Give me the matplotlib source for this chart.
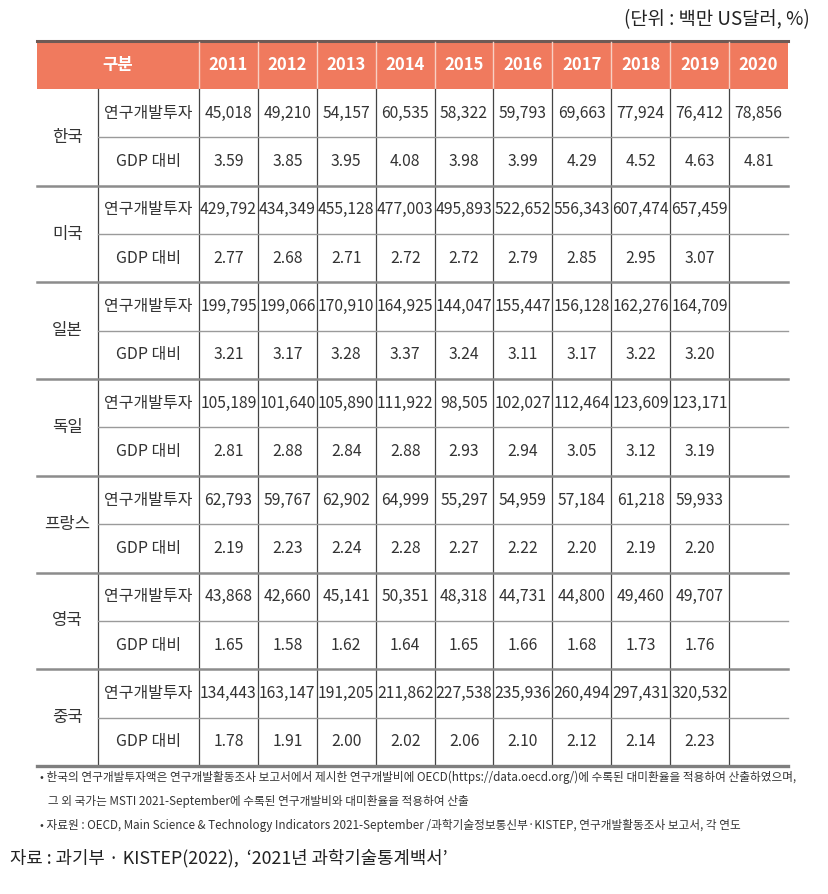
import matplotlib.pyplot as plt
from matplotlib.patches import Rectangle

plt.rcParams['font.family'] = ['Noto Sans CJK KR', 'DejaVu Sans']

# 데이터
years = ["2011", "2012", "2013", "2014", "2015", "2016", "2017", "2018", "2019", "2020"]
countries = ["한국", "미국", "일본", "독일", "프랑스", "영국", "중국"]
items = ["연구개발투자", "GDP 대비"]

rnd = {
    "한국": [45018, 49210, 54157, 60535, 58322, 59793, 69663, 77924, 76412, 78856],
    "미국": [429792, 434349, 455128, 477003, 495893, 522652, 556343, 607474, 657459, None],
    "일본": [199795, 199066, 170910, 164925, 144047, 155447, 156128, 162276, 164709, None],
    "독일": [105189, 101640, 105890, 111922, 98505, 102027, 112464, 123609, 123171, None],
    "프랑스": [62793, 59767, 62902, 64999, 55297, 54959, 57184, 61218, 59933, None],
    "영국": [43868, 42660, 45141, 50351, 48318, 44731, 44800, 49460, 49707, None],
    "중국": [134443, 163147, 191205, 211862, 227538, 235936, 260494, 297431, 320532, None],
}
gdp = {
    "한국": [3.59, 3.85, 3.95, 4.08, 3.98, 3.99, 4.29, 4.52, 4.63, 4.81],
    "미국": [2.77, 2.68, 2.71, 2.72, 2.72, 2.79, 2.85, 2.95, 3.07, None],
    "일본": [3.21, 3.17, 3.28, 3.37, 3.24, 3.11, 3.17, 3.22, 3.20, None],
    "독일": [2.81, 2.88, 2.84, 2.88, 2.93, 2.94, 3.05, 3.12, 3.19, None],
    "프랑스": [2.19, 2.23, 2.24, 2.28, 2.27, 2.22, 2.20, 2.19, 2.20, None],
    "영국": [1.65, 1.58, 1.62, 1.64, 1.65, 1.66, 1.68, 1.73, 1.76, None],
    "중국": [1.78, 1.91, 2.00, 2.02, 2.06, 2.10, 2.12, 2.14, 2.23, None],
}

unit_text = "(단위 : 백만 US달러, %)"
notes = [
    "• 한국의 연구개발투자액은 연구개발활동조사 보고서에서 제시한 연구개발비에 OECD(https://data.oecd.org/)에 수록된 대미환율을 적용하여 산출하였으며,",
    "   그 외 국가는 MSTI 2021-September에 수록된 연구개발비와 대미환율을 적용하여 산출",
    "• 자료원 : OECD, Main Science & Technology Indicators 2021-September /과학기술정보통신부·KISTEP, 연구개발활동조사 보고서, 각 연도",
]
source = "자료 : 과기부 · KISTEP(2022),  ‘2021년 과학기술통계백서’"

# 레이아웃 (픽셀 좌표)
W, H = 829, 894
x_left, x_item, x_year0 = 37, 98, 199
col_w = (788 - 199) / 10
y_head_top, y_head_bot = 41, 89
row_h = (766 - 89) / 14

header_color = "#F07A5E"
text_color = "#333333"

fig = plt.figure(figsize=(W / 100, H / 100), dpi=100)
ax = fig.add_axes([0, 0, 1, 1])
ax.set_xlim(0, W)
ax.set_ylim(H, 0)
ax.axis("off")

x_right = x_year0 + col_w * len(years)

# 헤더
ax.add_patch(Rectangle((x_left, y_head_top), x_right - x_left, y_head_bot - y_head_top,
                       facecolor=header_color, edgecolor="none"))
ax.plot([x_left, x_right], [y_head_top, y_head_top], color="#6e5a55", lw=2.2)
ax.text((x_left + x_year0) / 2, (y_head_top + y_head_bot) / 2, "구분", color="white",
        fontsize=12, fontweight="bold", ha="center", va="center")
for i, yr in enumerate(years):
    xc = x_year0 + col_w * (i + 0.5)
    ax.text(xc, (y_head_top + y_head_bot) / 2, yr, color="white", fontsize=12,
            fontweight="bold", ha="center", va="center")
    ax.plot([x_year0 + col_w * i] * 2, [y_head_top + 1, y_head_bot], color="#f8d0c4", lw=1)

# 본문
y_bottom = y_head_bot + row_h * 2 * len(countries)
for i in range(len(years)):
    ax.plot([x_year0 + col_w * i] * 2, [y_head_bot, y_bottom], color="#444444", lw=0.9)
ax.plot([x_item, x_item], [y_head_bot, y_bottom], color="#444444", lw=0.9)

for g, c in enumerate(countries):
    y0 = y_head_bot + row_h * 2 * g
    ax.text((x_left + x_item) / 2, y0 + row_h, c, color=text_color, fontsize=12,
            ha="center", va="center")
    if g > 0:
        ax.plot([x_left, x_right], [y0, y0], color="#8c8c8c", lw=1.8)
    ax.plot([x_item, x_right], [y0 + row_h, y0 + row_h], color="#9a9a9a", lw=1.0)
    for r, (item, vals) in enumerate(zip(items, [rnd[c], gdp[c]])):
        yc = y0 + row_h * (r + 0.5)
        ax.text((x_item + x_year0) / 2, yc, item, color=text_color, fontsize=11.5,
                ha="center", va="center")
        for i, v in enumerate(vals):
            if v is None:
                continue
            s = f"{v:,}" if r == 0 else f"{v:.2f}"
            ax.text(x_year0 + col_w * (i + 0.5), yc, s, color=text_color, fontsize=11.3,
                    ha="center", va="center")

ax.plot([x_left, x_right], [y_bottom, y_bottom], color="#7f7f7f", lw=2.4)

# 단위, 주석, 출처
ax.text(810, 20, unit_text, color="#222222", fontsize=13.5, ha="right", va="center")
for k, line in enumerate(notes):
    ax.text(40, 777 + 24 * k, line, color=text_color, fontsize=8.4, ha="left", va="center")
ax.text(10, 858, source, color="#222222", fontsize=12.8, ha="left", va="center")

fig.savefig("out.png", dpi=100)
